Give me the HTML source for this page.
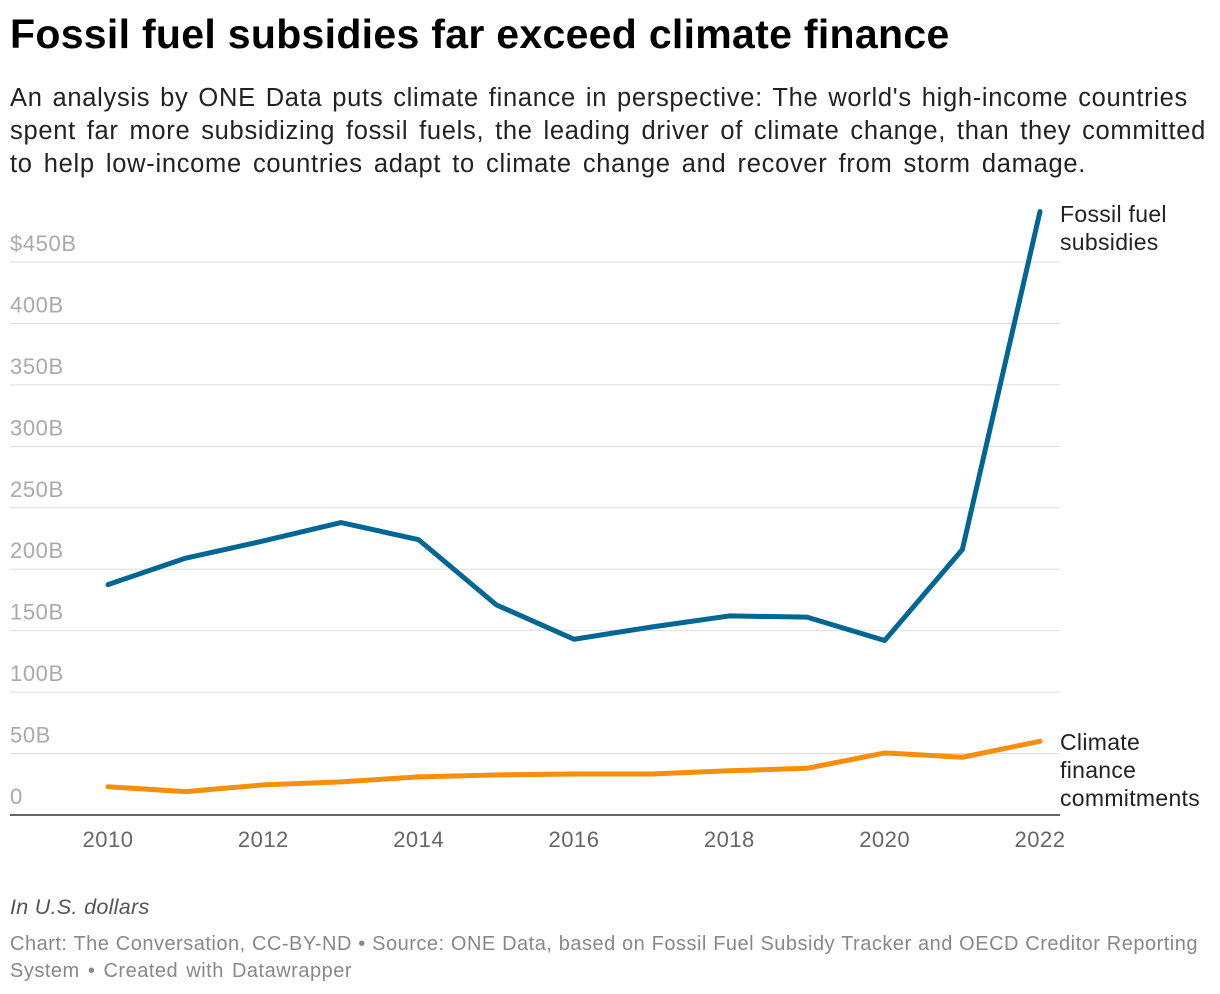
<!DOCTYPE html>
<html><head><meta charset="utf-8"><style>
body{margin:0;background:#fff;font-family:"Liberation Sans",sans-serif;width:1220px;height:994px;overflow:hidden;position:relative}
.j{white-space:nowrap;text-align:justify;text-align-last:justify;overflow:visible}
h1{position:absolute;left:10px;top:11px;margin:0;font-size:41px;font-weight:bold;color:#000;width:928px;letter-spacing:0.3px}
.sub{position:absolute;left:10px;top:82px;font-size:25.5px;line-height:33px;color:#222;letter-spacing:0.7px}
.note{position:absolute;left:10px;top:895px;font-size:21.5px;font-style:italic;color:#555;letter-spacing:0.3px}
.src{position:absolute;left:10px;top:931px;font-size:20px;line-height:27px;color:#888;letter-spacing:0.5px}
</style></head><body>
<h1 class="j">Fossil fuel subsidies far exceed climate finance</h1>
<div class="sub">
<div class="j" style="width:1178px">An analysis by ONE Data puts climate finance in perspective: The world's high-income countries</div>
<div class="j" style="width:1196px">spent far more subsidizing fossil fuels, the leading driver of climate change, than they committed</div>
<div class="j" style="width:1076px">to help low-income countries adapt to climate change and recover from storm damage.</div>
</div>
<svg id="chart" width="1220" height="994" style="position:absolute;left:0;top:0" font-family="Liberation Sans, sans-serif"></svg>
<div class="note">In U.S. dollars</div>
<div class="src">
<div class="j" style="width:1188px">Chart: The Conversation, CC-BY-ND • Source: ONE Data, based on Fossil Fuel Subsidy Tracker and OECD Creditor Reporting</div>
<div class="j" style="width:342px">System • Created with Datawrapper</div>
</div>
<script>
const years=[2010,2011,2012,2013,2014,2015,2016,2017,2018,2019,2020,2021,2022];
const fossil=[187.5,209,223,238,224,171,143,153,162,161,142,216,491];
const climate=[23,19,24.5,27,31,32.6,33.4,33.4,36,38,50.5,47,60];
const yTicks=[0,50,100,150,200,250,300,350,400,450];
const yTickLabels=["0","50B","100B","150B","200B","250B","300B","350B","400B","$450B"];
const xTicks=[2010,2012,2014,2016,2018,2020,2022];
const svg=document.getElementById('chart');
const NS='http://www.w3.org/2000/svg';
const x=v=>108+(v-2010)*(1040-108)/12;
const y=v=>815-v*(815-262)/450;
function mk(t,a){const e=document.createElementNS(NS,t);for(const k in a)e.setAttribute(k,a[k]);svg.appendChild(e);return e;}
yTicks.forEach((t,i)=>{
 const l=mk('line',{x1:10,x2:1060,y1:y(t),y2:y(t),stroke:t===0?'#333':'#ddd','stroke-width':t===0?1.5:1});
 
 
 const tx=mk('text',{x:10,y:y(t)-11,'font-size':22,fill:'#aaa','letter-spacing':0.6});
 tx.textContent=yTickLabels[i];
 
 
});
xTicks.forEach(t=>{
 const tx=mk('text',{x:x(t),y:847,'font-size':22,fill:'#666','text-anchor':'middle','letter-spacing':0.5});
 tx.textContent=t;
 
 
});
function line(d,c,n){
 const p=mk('path',{d:d.map((v,i)=>(i?'L':'M')+x(years[i])+','+y(v)).join(''),fill:'none',stroke:c,'stroke-width':5,'stroke-linejoin':'round','stroke-linecap':'round'});
 
 
}
line(fossil,'#006694','fossil-subsidies-line');
line(climate,'#f98e0a','climate-finance-line');
function lab(lines,yy,n){lines.forEach((s,i)=>{const t=mk('text',{x:1060,y:yy+i*28,'font-size':23,fill:'#222','letter-spacing':0.3});t.textContent=s;
 
 });}
lab(['Fossil fuel','subsidies'],222,'fossil-label');
lab(['Climate','finance','commitments'],750,'climate-label');
</script>
</body></html>
